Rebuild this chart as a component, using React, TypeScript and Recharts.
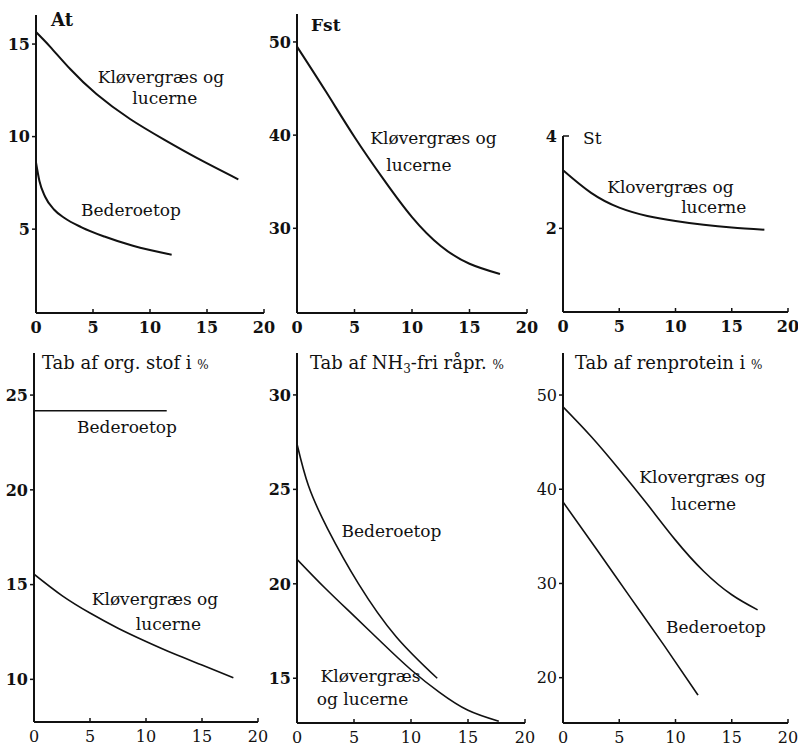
import type { ReactNode } from "react";
import { Line, LineChart, ReferenceDot, XAxis, YAxis } from "recharts";

const SERIF = '"DejaVu Serif", "Liberation Serif", serif';
const INK = "#111";

type Pt = { x: number; y: number };

const xTicks = [0, 5, 10, 15, 20];

// At
const atTicks = [5, 10, 15];
const atKlover: Pt[] = [
  { x: 0, y: 15.65 }, { x: 1.25, y: 14.85 }, { x: 3, y: 13.65 }, { x: 5.3, y: 12.3 },
  { x: 8.25, y: 10.95 }, { x: 11.2, y: 9.85 }, { x: 14.1, y: 8.85 }, { x: 17.75, y: 7.69 },
];
const atBeder: Pt[] = [
  { x: 0, y: 8.6 }, { x: 0.3, y: 7.6 }, { x: 0.8, y: 6.75 }, { x: 1.6, y: 6.05 },
  { x: 2.5, y: 5.6 }, { x: 4, y: 5.1 }, { x: 6, y: 4.6 }, { x: 8.5, y: 4.1 },
  { x: 11.9, y: 3.62 },
];

// Fst
const fstTicks = [30, 40, 50];
const fstKlover: Pt[] = [
  { x: 0, y: 49.5 }, { x: 2.5, y: 44.7 }, { x: 5, y: 39.8 }, { x: 7.5, y: 35.3 },
  { x: 10, y: 31.2 }, { x: 12.5, y: 28.1 }, { x: 15, y: 26.2 }, { x: 17.65, y: 25.1 },
];

// St
const stTicks = [2, 4];
const stKlover: Pt[] = [
  { x: 0, y: 3.26 }, { x: 2.5, y: 2.77 }, { x: 5, y: 2.45 }, { x: 7.5, y: 2.27 },
  { x: 10, y: 2.16 }, { x: 12.5, y: 2.08 }, { x: 15, y: 2.02 }, { x: 17.9, y: 1.97 },
];

// Tab af org. stof
const orgTicks = [10, 15, 20, 25];
const orgBeder: Pt[] = [{ x: 0, y: 24.17 }, { x: 11.85, y: 24.17 }];
const orgKlover: Pt[] = [
  { x: 0, y: 15.55 }, { x: 2.5, y: 14.42 }, { x: 5, y: 13.5 }, { x: 7.5, y: 12.7 },
  { x: 10, y: 12.0 }, { x: 12.5, y: 11.35 }, { x: 15, y: 10.76 }, { x: 17.8, y: 10.09 },
];

// Tab af NH3-fri råpr.
const nh3Ticks = [15, 20, 25, 30];
const nh3Beder: Pt[] = [
  { x: 0, y: 27.4 }, { x: 1, y: 25.2 }, { x: 2.7, y: 22.9 }, { x: 5.4, y: 20.0 },
  { x: 8.7, y: 17.2 }, { x: 12.3, y: 15.0 },
];
const nh3Klover: Pt[] = [
  { x: 0, y: 21.3 }, { x: 2.5, y: 19.75 }, { x: 5, y: 18.3 }, { x: 7.5, y: 16.85 },
  { x: 10, y: 15.45 }, { x: 12.5, y: 14.25 }, { x: 15, y: 13.3 }, { x: 17.7, y: 12.72 },
];

// Tab af renprotein
const protTicks = [20, 30, 40, 50];
const protKlover: Pt[] = [
  { x: 0, y: 48.75 }, { x: 2.5, y: 45.6 }, { x: 5, y: 42.1 }, { x: 7.5, y: 38.4 },
  { x: 10, y: 34.6 }, { x: 12.5, y: 31.3 }, { x: 15, y: 28.8 }, { x: 17.3, y: 27.2 },
];
const protBeder: Pt[] = [
  { x: 0, y: 38.65 }, { x: 3, y: 33.6 }, { x: 6, y: 28.5 }, { x: 9, y: 23.4 },
  { x: 12, y: 18.15 },
];

type Note = { text: string; x: number; y: number };
type Curve = { data: Pt[]; kind: "natural" | "monotone" };

type PanelDef = {
  id: string;
  rect: { left: number; right: number; top: number; bottom: number };
  yDomain: [number, number];
  yTicks: number[];
  yTickIn?: number[];
  series: Curve[];
  notes: Note[];
  title: (x: number, y: number) => ReactNode;
  bold: boolean;
  yBold: boolean;
  lineWidth: number;
};

const pct = <tspan fontSize={12}>%</tspan>;

const panels: PanelDef[] = [
  {
    id: "at",
    rect: { left: 36, right: 264, top: 15, bottom: 313 },
    yDomain: [0.47, 16.57],
    yTicks: atTicks,
    series: [
      { data: atKlover, kind: "natural" },
      { data: atBeder, kind: "monotone" },
    ],
    notes: [
      { text: "Kløvergræs og", x: 10.96, y: 12.88 },
      { text: "lucerne", x: 11.3, y: 11.76 },
      { text: "Bederoetop", x: 8.33, y: 5.72 },
    ],
    title: (x, y) => (
      <text x={x + 15} y={y + 11} fontWeight={700} fontSize={18}>At</text>
    ),
    bold: true,
    yBold: true,
    lineWidth: 2,
  },
  {
    id: "fst",
    rect: { left: 297, right: 527, top: 14, bottom: 313 },
    yDomain: [20.91, 53.0],
    yTicks: fstTicks,
    series: [{ data: fstKlover, kind: "natural" }],
    notes: [
      { text: "Kløvergræs og", x: 11.87, y: 39.06 },
      { text: "lucerne", x: 10.6, y: 36.2 },
    ],
    title: (x, y) => (
      <text x={x + 14} y={y + 17} fontWeight={700} fontSize={17}>Fst</text>
    ),
    bold: true,
    yBold: true,
    lineWidth: 2,
  },
  {
    id: "st",
    rect: { left: 563, right: 788, top: 136, bottom: 312 },
    yDomain: [0.19, 4],
    yTicks: stTicks,
    yTickIn: [4],
    series: [{ data: stKlover, kind: "natural" }],
    notes: [
      { text: "Klovergræs og", x: 9.55, y: 2.77 },
      { text: "lucerne", x: 13.4, y: 2.33 },
    ],
    title: (x, y) => (
      <text x={x + 20} y={y + 8} fontSize={17}>St</text>
    ),
    bold: true,
    yBold: true,
    lineWidth: 2,
  },
  {
    id: "org",
    rect: { left: 34, right: 258, top: 353, bottom: 722 },
    yDomain: [7.75, 27.22],
    yTicks: orgTicks,
    series: [
      { data: orgBeder, kind: "natural" },
      { data: orgKlover, kind: "natural" },
    ],
    notes: [
      { text: "Bederoetop", x: 8.3, y: 22.98 },
      { text: "Kløvergræs og", x: 10.8, y: 13.92 },
      { text: "lucerne", x: 12.0, y: 12.6 },
    ],
    title: (x, y) => (
      <text x={x + 8} y={y + 16} fontSize={18}>Tab af org. stof i {pct}</text>
    ),
    bold: false,
    yBold: true,
    lineWidth: 1.6,
  },
  {
    id: "nh3",
    rect: { left: 297, right: 525, top: 353, bottom: 723 },
    yDomain: [12.63, 32.22],
    yTicks: nh3Ticks,
    series: [
      { data: nh3Beder, kind: "natural" },
      { data: nh3Klover, kind: "natural" },
    ],
    notes: [
      { text: "Bederoetop", x: 8.29, y: 22.49 },
      { text: "Kløvergræs", x: 6.45, y: 14.82 },
      { text: "og lucerne", x: 5.75, y: 13.58 },
    ],
    title: (x, y) => (
      <text x={x + 13} y={y + 16} fontSize={18}>
        Tab af NH<tspan fontSize={12} dy={4}>3</tspan>
        <tspan dy={-4}>-fri råpr. </tspan>
        {pct}
      </text>
    ),
    bold: false,
    yBold: true,
    lineWidth: 1.6,
  },
  {
    id: "prot",
    rect: { left: 563, right: 788, top: 353, bottom: 723 },
    yDomain: [15.19, 54.46],
    yTicks: protTicks,
    series: [
      { data: protKlover, kind: "natural" },
      { data: protBeder, kind: "natural" },
    ],
    notes: [
      { text: "Klovergræs og", x: 12.4, y: 40.63 },
      { text: "lucerne", x: 12.5, y: 37.8 },
      { text: "Bederoetop", x: 13.6, y: 24.7 },
    ],
    title: (x, y) => (
      <text x={x + 12} y={y + 16} fontSize={18}>Tab af renprotein i {pct}</text>
    ),
    bold: false,
    yBold: false,
    lineWidth: 1.6,
  },
];

// space around each plot area for the tick labels
const YW = 46;
const MT = 26;
const XH = 32;
const MR = 16;

function Panel({ p }: { p: PanelDef }) {
  const w = YW + p.rect.right - p.rect.left + MR;
  const h = MT + p.rect.bottom - p.rect.top + XH;
  const xWeight = p.bold ? 700 : 400;
  const yWeight = p.yBold ? 700 : 400;
  const inward = p.yTickIn ?? [];

  return (
    <div style={{ position: "absolute", left: p.rect.left - YW, top: p.rect.top - MT }}>
      <LineChart
        width={w}
        height={h}
        margin={{ top: MT, right: MR, bottom: 0, left: 0 }}
        style={{ fontFamily: SERIF }}
      >
        <XAxis
          type="number"
          dataKey="x"
          domain={[0, 20]}
          ticks={xTicks}
          interval={0}
          allowDataOverflow
          height={XH}
          tickSize={0}
          tickMargin={0}
          tickLine={false}
          axisLine={{ stroke: INK, strokeWidth: 2 }}
          tick={(t: any) => (
            <g>
              <line x1={t.x} x2={t.x} y1={t.y} y2={t.y - 4} stroke={INK} strokeWidth={1.5} />
              <text
                x={t.x}
                y={t.y + 20}
                textAnchor="middle"
                fontSize={16}
                fontWeight={xWeight}
                fill={INK}
                fontFamily={SERIF}
              >
                {t.payload.value}
              </text>
            </g>
          )}
        />
        <YAxis
          type="number"
          domain={p.yDomain}
          ticks={p.yTicks}
          interval={0}
          allowDataOverflow
          width={YW}
          tickSize={0}
          tickMargin={0}
          tickLine={false}
          axisLine={{ stroke: INK, strokeWidth: 2 }}
          tick={(t: any) => {
            const inside = inward.includes(t.payload.value);
            return (
              <g>
                <line
                  x1={t.x}
                  x2={inside ? t.x + 6 : t.x - 4}
                  y1={t.y}
                  y2={t.y}
                  stroke={INK}
                  strokeWidth={1.5}
                />
                <text
                  x={t.x - 6}
                  y={t.y}
                  dy="0.36em"
                  textAnchor="end"
                  fontSize={16}
                  fontWeight={yWeight}
                  fill={INK}
                  fontFamily={SERIF}
                >
                  {t.payload.value}
                </text>
              </g>
            );
          }}
        />
        {p.series.map((s, i) => (
          <Line
            key={i}
            data={s.data}
            dataKey="y"
            type={s.kind}
            stroke={INK}
            strokeWidth={p.lineWidth}
            dot={false}
            activeDot={false}
            isAnimationActive={false}
          />
        ))}
        {p.notes.map((n) => (
          <ReferenceDot
            key={n.text}
            x={n.x}
            y={n.y}
            r={0}
            ifOverflow="visible"
            shape={(d: any) => (
              <text
                x={d.cx}
                y={d.cy}
                textAnchor="middle"
                fontSize={17}
                fill={INK}
                fontFamily={SERIF}
              >
                {n.text}
              </text>
            )}
          />
        ))}
        <ReferenceDot
          x={0}
          y={p.yDomain[1]}
          r={0}
          ifOverflow="visible"
          shape={(d: any) => (
            <g fill={INK} style={{ fontFamily: SERIF }}>
              {p.title(d.cx, d.cy)}
            </g>
          )}
        />
      </LineChart>
    </div>
  );
}

export default function App() {
  return (
    <div
      style={{
        position: "absolute",
        left: 0,
        top: 0,
        width: 798,
        height: 748,
        background: "#fff",
        overflow: "hidden",
      }}
    >
      {panels.map((p) => (
        <Panel key={p.id} p={p} />
      ))}
    </div>
  );
}
